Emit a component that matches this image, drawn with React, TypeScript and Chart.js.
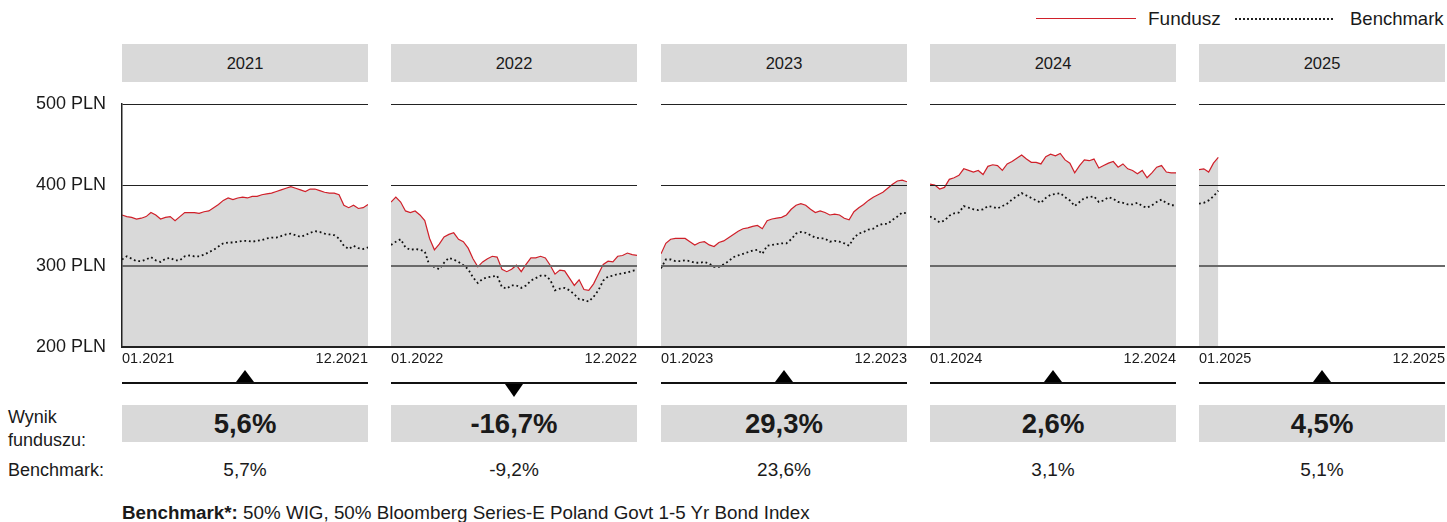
import React, { useEffect, useRef } from 'react';
import { Chart, registerables } from 'chart.js';

Chart.register(...registerables);

// ---------- data ----------
const years = ['2021', '2022', '2023', '2024', '2025'];
const xStartLabels = ['01.2021', '01.2022', '01.2023', '01.2024', '01.2025'];
const xEndLabels = ['12.2021', '12.2022', '12.2023', '12.2024', '12.2025'];
const yTickValues = [200, 300, 400, 500];
const yTickSuffix = ' PLN';
const weeksPerYear = 52;

const fund2021 = [363, 361, 360, 358, 359, 361, 366, 363, 358, 360, 361, 356, 361, 366, 366, 366, 365, 367, 368, 372, 376, 381, 384, 382, 384, 385, 384, 386, 386, 388, 389, 390, 392, 394, 396, 398, 396, 394, 392, 395, 395, 393, 391, 390, 390, 388, 375, 372, 375, 371, 372, 376];
const bench2021 = [308, 312, 309, 306, 306, 308, 311, 307, 305, 309, 310, 307, 307, 312, 313, 312, 312, 314, 317, 320, 324, 328, 329, 329, 330, 331, 331, 330, 331, 332, 334, 335, 335, 337, 339, 340, 338, 336, 338, 341, 343, 342, 340, 339, 338, 334, 325, 321, 325, 322, 321, 323];
const fund2022 = [379, 385, 379, 368, 366, 368, 363, 356, 334, 320, 327, 336, 339, 341, 333, 330, 322, 309, 299, 305, 309, 312, 311, 296, 293, 296, 301, 293, 302, 310, 310, 312, 310, 301, 290, 295, 294, 285, 276, 283, 271, 270, 278, 290, 302, 306, 305, 312, 313, 316, 314, 313];
const bench2022 = [326, 330, 333, 323, 320, 321, 320, 318, 300, 299, 296, 304, 310, 308, 305, 301, 296, 286, 279, 284, 286, 287, 288, 274, 272, 276, 276, 273, 276, 282, 285, 288, 288, 283, 270, 272, 273, 270, 265, 259, 258, 256, 262, 270, 282, 287, 288, 290, 291, 292, 294, 295];
const fund2023 = [315, 328, 333, 334, 334, 334, 330, 326, 329, 330, 326, 324, 329, 331, 335, 339, 343, 346, 347, 349, 350, 346, 356, 358, 359, 360, 363, 370, 375, 377, 375, 370, 366, 368, 366, 363, 364, 363, 359, 357, 367, 372, 376, 381, 385, 388, 391, 396, 401, 405, 406, 404];
const bench2023 = [297, 308, 308, 306, 306, 307, 306, 304, 304, 305, 303, 299, 299, 302, 306, 311, 313, 315, 317, 319, 320, 315, 325, 326, 327, 328, 328, 333, 340, 342, 341, 338, 335, 334, 334, 330, 331, 330, 328, 325, 335, 340, 342, 345, 346, 350, 352, 352, 357, 361, 366, 365];
const fund2024 = [401, 400, 395, 397, 407, 409, 412, 420, 418, 416, 418, 413, 423, 425, 424, 418, 426, 429, 433, 437, 432, 428, 428, 426, 435, 438, 436, 439, 431, 427, 415, 424, 431, 430, 432, 421, 424, 427, 429, 422, 426, 420, 418, 414, 418, 409, 415, 422, 424, 416, 415, 415];
const bench2024 = [361, 358, 354, 356, 362, 365, 366, 374, 372, 370, 369, 370, 374, 373, 371, 374, 377, 382, 386, 390, 387, 384, 381, 378, 384, 388, 389, 390, 385, 381, 374, 379, 384, 385, 386, 379, 381, 385, 383, 379, 378, 376, 376, 378, 374, 372, 375, 379, 382, 378, 375, 375];
const fund2025 = [419, 420, 416, 427, 434];
const bench2025 = [377, 378, 381, 386, 393];

const fundSeries = [fund2021, fund2022, fund2023, fund2024, fund2025];
const benchSeries = [bench2021, bench2022, bench2023, bench2024, bench2025];

const fundResults = ['5,6%', '-16,7%', '29,3%', '2,6%', '4,5%'];
const benchResults = ['5,7%', '-9,2%', '23,6%', '3,1%', '5,1%'];

const legendFund = 'Fundusz';
const legendBench = 'Benchmark';
const rowLabelFund = ['Wynik', 'funduszu:'];
const rowLabelBench = 'Benchmark:';
const footnoteBold = 'Benchmark*:';
const footnoteText = ' 50% WIG, 50% Bloomberg Series-E Poland Govt 1-5 Yr Bond Index';

// ---------- style ----------
const FONT = "'Liberation Sans', Arial, Helvetica, sans-serif";
const TEXT = '#1a1a1a';
const RED = '#d0202a';
const GRAY = '#d9d9d9';
const PANEL_W = 246;
const PANEL_STEP = 269.25;
const FIRST_LEFT = 122;
const CANVAS_TOP = 84;
const CANVAS_H = 286;
const PLOT_TOP_PAD = 20;
const PLOT_H = 243;

const panelLeft = (i: number) => Math.round(FIRST_LEFT + i * PANEL_STEP);

function Panel({ index }: { index: number }) {
  const ref = useRef<HTMLCanvasElement>(null);
  const first = index === 0;
  const left = first ? 0 : panelLeft(index);
  const width = first ? FIRST_LEFT + PANEL_W : PANEL_W;

  useEffect(() => {
    const toPts = (arr: number[]) => arr.map((v, i) => ({ x: i, y: v }));
    const chart = new Chart(ref.current as HTMLCanvasElement, {
      type: 'line',
      data: {
        datasets: [
          {
            label: legendFund,
            data: toPts(fundSeries[index]),
            borderColor: RED,
            borderWidth: 1.2,
            backgroundColor: GRAY,
            fill: 'start',
            pointRadius: 0,
            tension: 0,
            order: 2,
          },
          {
            label: legendBench,
            data: toPts(benchSeries[index]),
            borderColor: '#111',
            borderWidth: 1.8,
            borderDash: [1.8, 2.8],
            fill: false,
            pointRadius: 0,
            tension: 0,
            order: 1,
          },
        ],
      },
      options: {
        responsive: false,
        animation: false,
        events: [],
        layout: { padding: { top: PLOT_TOP_PAD, left: 0, right: 0, bottom: 0 } },
        plugins: { legend: { display: false }, tooltip: { enabled: false } },
        scales: {
          x: {
            type: 'linear',
            min: 0,
            max: weeksPerYear - 1,
            grid: { display: false, drawTicks: false },
            border: { display: false },
            afterBuildTicks: (s: any) => {
              s.ticks = [{ value: 0 }, { value: weeksPerYear - 1 }];
            },
            afterFit: (s: any) => {
              s.height = CANVAS_H - PLOT_TOP_PAD - PLOT_H;
              s.paddingLeft = 0;
              s.paddingRight = 0;
            },
            ticks: {
              align: 'inner',
              maxRotation: 0,
              minRotation: 0,
              autoSkip: false,
              padding: 3,
              color: TEXT,
              font: { family: FONT, size: 14.5 },
              callback: (v: any) => (v === 0 ? xStartLabels[index] : xEndLabels[index]),
            },
          },
          y: {
            min: 200,
            max: 500,
            afterBuildTicks: (s: any) => {
              s.ticks = yTickValues.map((v) => ({ value: v }));
            },
            afterFit: (s: any) => {
              s.width = first ? FIRST_LEFT : 0;
              s.paddingTop = 0;
              s.paddingBottom = 0;
            },
            grid: {
              z: 1,
              drawTicks: false,
              color: (ctx: any) =>
                ctx.tick && ctx.tick.value === 200 ? 'rgba(0,0,0,0)' : ctx.tick && ctx.tick.value === 300 ? '#6a6a6a' : '#222',
              lineWidth: (ctx: any) => (ctx.tick && ctx.tick.value === 300 ? 2 : 1),
            },
            border: { display: first, color: '#222', width: 1.5, z: 1 },
            ticks: {
              display: first,
              padding: 16,
              color: TEXT,
              font: { family: FONT, size: 18 },
              callback: (v: any) => v + yTickSuffix,
            },
          },
        },
      },
    } as any);
    return () => chart.destroy();
  }, [index]);

  return (
    <canvas
      ref={ref}
      width={width}
      height={CANVAS_H}
      style={{ position: 'absolute', left, top: CANVAS_TOP, width, height: CANVAS_H }}
    />
  );
}

const abs = (s: React.CSSProperties): React.CSSProperties => ({ position: 'absolute', ...s });

export default function App() {
  return (
    <div
      style={{
        position: 'absolute',
        left: 0,
        top: 0,
        width: 1447,
        height: 522,
        background: '#fff',
        fontFamily: FONT,
        color: TEXT,
        overflow: 'hidden',
      }}
    >
      {/* legend */}
      <div style={abs({ left: 1036, top: 18, width: 100, height: 1.3, background: RED })} />
      <div style={abs({ left: 1148, top: 8, lineHeight: '22px', fontSize: 19 })}>{legendFund}</div>
      <div
        style={abs({
          left: 1235,
          top: 18,
          width: 100,
          height: 1.6,
          backgroundImage: 'repeating-linear-gradient(to right, #222 0 1.6px, transparent 1.6px 4px)',
        })}
      />
      <div style={abs({ left: 1350, top: 8, lineHeight: '22px', fontSize: 18.5 })}>{legendBench}</div>

      {years.map((y, i) => (
        <div
          key={'h' + y}
          style={abs({
            left: panelLeft(i),
            top: 44,
            width: PANEL_W,
            height: 38,
            lineHeight: '38px',
            background: GRAY,
            textAlign: 'center',
            fontSize: 16.5,
          })}
        >
          {y}
        </div>
      ))}

      {years.map((y, i) => (
        <Panel key={'p' + y} index={i} />
      ))}

      {/* continuous x axis baseline */}
      <div style={abs({ left: FIRST_LEFT, top: 346, width: panelLeft(4) + PANEL_W - FIRST_LEFT, height: 2, background: '#222' })} />

      {/* triangle rows */}
      {years.map((y, i) => {
        const positive = parseFloat(fundResults[i].replace(',', '.')) >= 0;
        const cx = panelLeft(i) + PANEL_W / 2;
        return (
          <React.Fragment key={'t' + y}>
            <div style={abs({ left: panelLeft(i), top: 382, width: PANEL_W, height: 2, background: '#111' })} />
            <div
              style={abs({
                left: cx - 9,
                top: positive ? 370 : 384,
                width: 0,
                height: 0,
                borderLeft: '9px solid transparent',
                borderRight: '9px solid transparent',
                ...(positive ? { borderBottom: '12px solid #000' } : { borderTop: '13px solid #000' }),
              })}
            />
          </React.Fragment>
        );
      })}

      {/* result rows */}
      <div style={abs({ left: 8, top: 406, lineHeight: '23px', fontSize: 18 })}>
        {rowLabelFund[0]}
        <br />
        {rowLabelFund[1]}
      </div>
      {fundResults.map((r, i) => (
        <div
          key={'r' + i}
          style={abs({
            left: panelLeft(i),
            top: 405,
            width: PANEL_W,
            height: 37,
            lineHeight: '38px',
            background: GRAY,
            textAlign: 'center',
            fontSize: 27.5,
            fontWeight: 700,
          })}
        >
          {r}
        </div>
      ))}
      <div style={abs({ left: 8, top: 459, lineHeight: '22px', fontSize: 18 })}>{rowLabelBench}</div>
      {benchResults.map((r, i) => (
        <div
          key={'b' + i}
          style={abs({ left: panelLeft(i), top: 459, width: PANEL_W, lineHeight: '22px', textAlign: 'center', fontSize: 19 })}
        >
          {r}
        </div>
      ))}

      {/* footnote */}
      <div style={abs({ left: FIRST_LEFT, top: 502, lineHeight: '22px', fontSize: 18.8, whiteSpace: 'nowrap' })}>
        <b>{footnoteBold}</b>
        {footnoteText}
      </div>
    </div>
  );
}
